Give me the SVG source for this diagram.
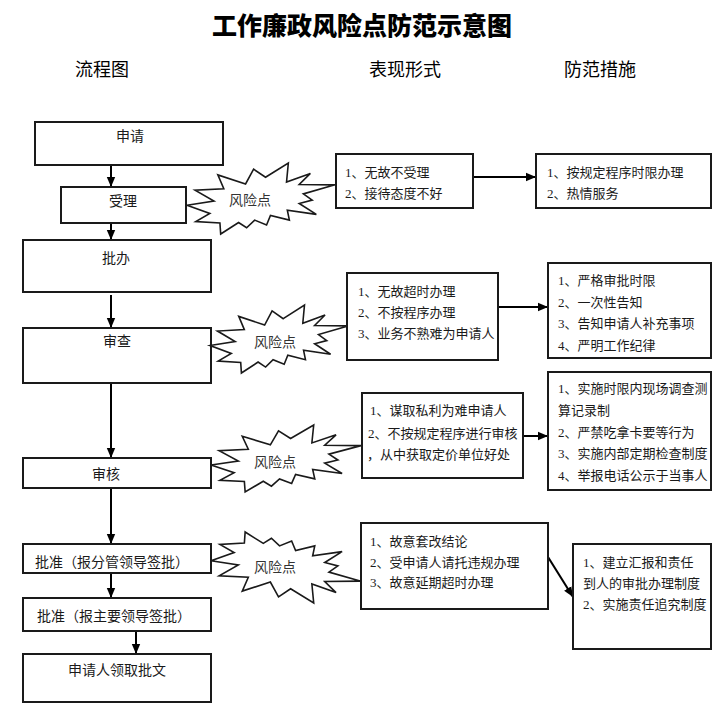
<svg xmlns="http://www.w3.org/2000/svg" xmlns:xlink="http://www.w3.org/1999/xlink" width="725" height="717" viewBox="0 0 725 717">
<style>
text{font-family:"Liberation Serif","Noto Sans CJK SC",serif;fill:#1a1a1a}
.title{font-family:"Noto Sans CJK SC",sans-serif;font-size:25px;font-weight:900;fill:#000}
.hdr{font-family:"Noto Sans CJK SC",sans-serif;font-size:18px;fill:#000}
.lt{font-size:14px}
.rt{font-size:13px}
.st{font-size:14px;fill:#333}
.box{fill:#fff;stroke:#1a1a1a;stroke-width:2}
.star{fill:#fff;stroke:#1a1a1a;stroke-width:1.6;vector-effect:non-scaling-stroke;stroke-linejoin:miter}
.ar{stroke:#000;stroke-width:2;fill:none;marker-end:url(#ah)}
</style>
<defs>
<marker id="ah" markerUnits="userSpaceOnUse" markerWidth="10" markerHeight="10" viewBox="0 0 10 10" refX="10" refY="5" orient="auto">
<path d="M0,0.8 L10,5 L0,9.2 Z" fill="#000"/>
</marker>
<path id="seal" class="star" d="M0.5306,0.2010 L0.6847,0 L0.6725,0.2675 L0.8337,0.1469 L0.7583,0.3024 L1,0.3076 L0.7863,0.4353 L0.8458,0.5227 L0.7583,0.5699 L0.8739,0.7237 L0.6778,0.6644 L0.6918,0.8042 L0.5639,0.7377 L0.5376,0.8723 L0.4570,0.8042 L0.4028,0.9126 L0.3485,0.8391 L0.2276,1 L0.2225,0.8444 L0.0595,0.8252 L0.1542,0.7116 L0,0.5962 L0.1822,0.5367 L0.0543,0.3829 L0.2487,0.3619 L0.2084,0.1678 L0.3958,0.2955 L0.4501,0.0874 Z"/>
</defs>
<rect width="725" height="717" fill="#fff"/>

<g id="headings">
<text class="title" x="362" y="35" text-anchor="middle">工作廉政风险点防范示意图</text>
<text class="hdr" x="102" y="76" text-anchor="middle">流程图</text>
<text class="hdr" x="405" y="76" text-anchor="middle">表现形式</text>
<text class="hdr" x="600" y="76" text-anchor="middle">防范措施</text>
</g>

<g id="connectors">
<line class="ar" x1="111" y1="165" x2="111" y2="187"/>
<line class="ar" x1="111" y1="223" x2="111" y2="240"/>
<line class="ar" x1="111" y1="295" x2="111" y2="328"/>
<line class="ar" x1="111" y1="383" x2="111" y2="458"/>
<line class="ar" x1="111" y1="488" x2="111" y2="544"/>
<line class="ar" x1="111" y1="573" x2="111" y2="598"/>
<line class="ar" x1="136" y1="631" x2="136" y2="654"/>
<line class="ar" x1="473" y1="177" x2="536" y2="177"/>
<line class="ar" x1="498" y1="307" x2="548" y2="307"/>
<line class="ar" x1="523" y1="436" x2="548" y2="436"/>
<line class="ar" x1="548" y1="557" x2="573" y2="597"/>
</g>

<g id="n-apply"><rect class="box" x="35" y="122" width="188" height="43"/><text class="lt" x="130" y="141" text-anchor="middle">申请</text></g>
<g id="n-accept"><rect class="box" x="61" y="187" width="125" height="36"/><text class="lt" x="123" y="206" text-anchor="middle">受理</text></g>
<g id="n-handle"><rect class="box" x="23" y="240" width="188" height="52"/><text class="lt" x="116" y="263" text-anchor="middle">批办</text></g>
<g id="n-review"><rect class="box" x="23" y="328" width="188" height="55"/><text class="lt" x="117" y="346" text-anchor="middle">审查</text></g>
<g id="n-audit"><rect class="box" x="23" y="458" width="188" height="30"/><text class="lt" x="106" y="479" text-anchor="middle">审核</text></g>
<g id="n-approve1"><rect class="box" x="23" y="544" width="188" height="29"/><text class="lt" x="35" y="567">批准（报分管领导签批）</text></g>
<g id="n-approve2"><rect class="box" x="23" y="598" width="188" height="33"/><text class="lt" x="37" y="621">批准（报主要领导签批）</text></g>
<g id="n-collect"><rect class="box" x="23" y="654" width="188" height="48"/><text class="lt" x="117" y="675" text-anchor="middle">申请人领取批文</text></g>

<g id="risk1"><use xlink:href="#seal" transform="translate(187,163) scale(148,71)"/><text class="st" x="250" y="205" text-anchor="middle">风险点</text></g>
<g id="risk2"><use xlink:href="#seal" transform="translate(210,305) scale(138,68)"/><text class="st" x="275" y="347" text-anchor="middle">风险点</text></g>
<g id="risk3"><use xlink:href="#seal" transform="translate(211,425) scale(150,67)"/><text class="st" x="275" y="467" text-anchor="middle">风险点</text></g>
<g id="risk4"><use xlink:href="#seal" transform="translate(211,603) scale(150,-71)"/><text class="st" x="275" y="572" text-anchor="middle">风险点</text></g>

<g id="form1"><rect class="box" x="336" y="154" width="137" height="54"/>
<text class="rt" x="345" y="177">1、无故不受理</text>
<text class="rt" x="345" y="198">2、接待态度不好</text></g>
<g id="measure1"><rect class="box" x="536" y="154" width="175" height="54"/>
<text class="rt" x="547" y="177">1、按规定程序时限办理</text>
<text class="rt" x="547" y="198">2、热情服务</text></g>

<g id="form2"><rect class="box" x="347" y="273" width="151" height="87"/>
<text class="rt" x="358" y="296">1、无故超时办理</text>
<text class="rt" x="358" y="317">2、不按程序办理</text>
<text class="rt" x="358" y="338">3、业务不熟难为申请人</text></g>
<g id="measure2"><rect class="box" x="548" y="263" width="163" height="95"/>
<text class="rt" x="558" y="285">1、严格审批时限</text>
<text class="rt" x="558" y="307">2、一次性告知</text>
<text class="rt" x="558" y="328">3、告知申请人补充事项</text>
<text class="rt" x="558" y="350">4、严明工作纪律</text></g>

<g id="form3"><rect class="box" x="362" y="393" width="161" height="85"/>
<text class="rt" x="370" y="415">1、谋取私利为难申请人</text>
<text class="rt" x="368" y="438">2、不按规定程序进行审核</text>
<text class="rt" x="367" y="459">，从中获取定价单位好处</text></g>
<g id="measure3"><rect class="box" x="548" y="372" width="163" height="118"/>
<text class="rt" x="558" y="393">1、实施时限内现场调查测</text>
<text class="rt" x="558" y="415">算记录制</text>
<text class="rt" x="558" y="437">2、严禁吃拿卡要等行为</text>
<text class="rt" x="558" y="458">3、实施内部定期检查制度</text>
<text class="rt" x="558" y="480">4、举报电话公示于当事人</text></g>

<g id="form4"><rect class="box" x="361" y="523" width="187" height="86"/>
<text class="rt" x="370" y="546">1、故意套改结论</text>
<text class="rt" x="370" y="567">2、受申请人请托违规办理</text>
<text class="rt" x="370" y="587">3、故意延期超时办理</text></g>
<g id="measure4"><rect class="box" x="573" y="544" width="138" height="105"/>
<text class="rt" x="583" y="567">1、建立汇报和责任</text>
<text class="rt" x="583" y="588">到人的审批办理制度</text>
<text class="rt" x="583" y="609">2、实施责任追究制度</text></g>
</svg>
